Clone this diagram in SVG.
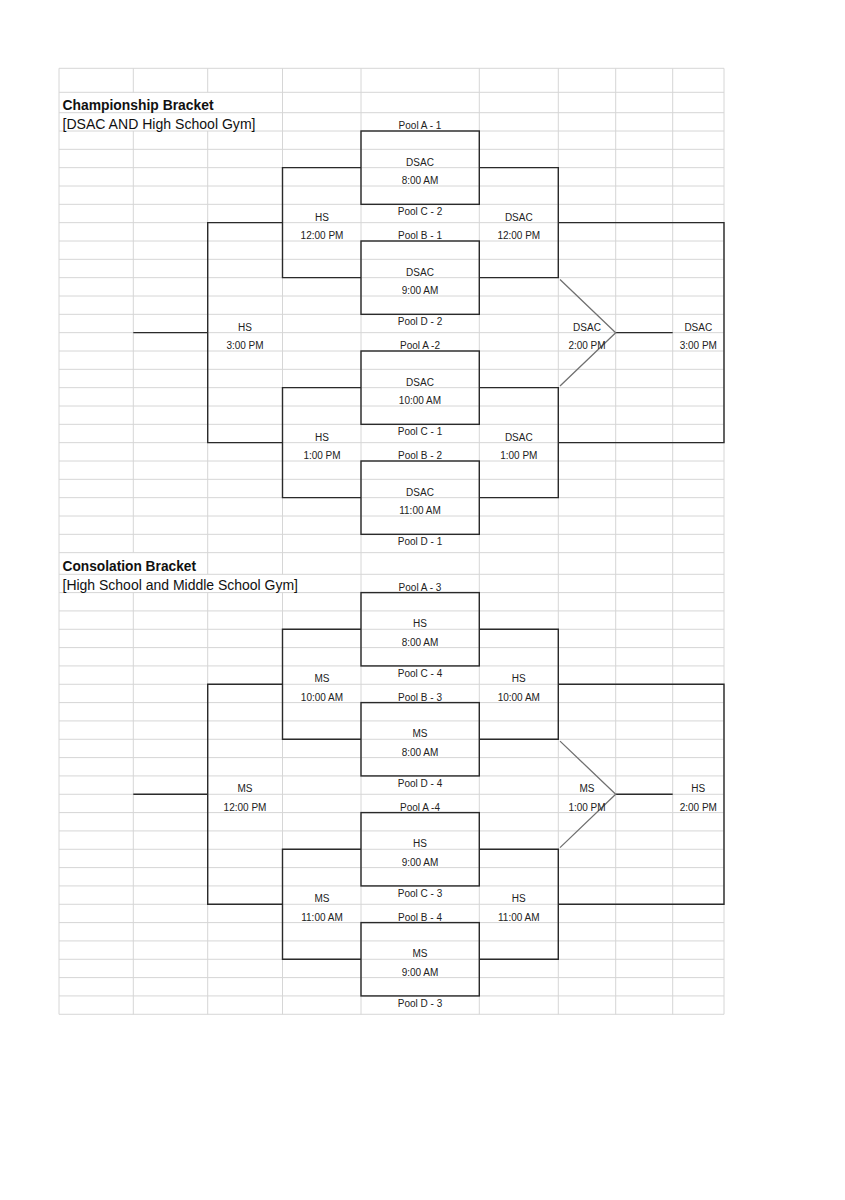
<svg xmlns="http://www.w3.org/2000/svg" width="845" height="1200" viewBox="0 0 845 1200">
<style>
.grid{stroke:#d6d6d6;stroke-width:1;fill:none}
.ln{stroke:#2a2a2a;stroke-width:1.4;fill:none}
.dg{stroke:#707070;stroke-width:1.3;fill:none}
.box{stroke:#2a2a2a;stroke-width:1.4;fill:none}
.t{font-family:"Liberation Sans",Arial,sans-serif;font-size:10px;fill:#222;text-anchor:middle}
.h1{font-family:"Liberation Sans",Arial,sans-serif;font-size:15.5px;font-weight:bold;fill:#111}
.h2{font-family:"Liberation Sans",Arial,sans-serif;font-size:14px;fill:#111}
</style>
<rect width="845" height="1200" fill="#fff"/>
<g id="grid">
<path class="grid" d="M59 68.3H724M59 92.3H724M59 112.7H724M59 574.3H724
M59 131H724M59 149.33H724M59 167.67H724M59 186H724M59 204.33H724M59 222.67H724M59 241H724M59 259.33H724M59 277.67H724M59 296H724M59 314.33H724M59 332.67H724M59 351H724M59 369.33H724M59 387.67H724M59 406H724M59 424.33H724M59 442.67H724M59 461H724M59 479.33H724M59 497.67H724M59 516H724M59 534.33H724M59 552.67H724
M59 592.6H724M59 610.93H724M59 629.27H724M59 647.6H724M59 665.93H724M59 684.27H724M59 702.6H724M59 720.93H724M59 739.27H724M59 757.6H724M59 775.93H724M59 794.27H724M59 812.6H724M59 830.93H724M59 849.27H724M59 867.6H724M59 885.93H724M59 904.27H724M59 922.6H724M59 940.93H724M59 959.27H724M59 977.6H724M59 995.93H724M59 1014.27H724
M59 68.3V1014.3
M133.3 68.3V92.3M133.3 131V552.67M133.3 592.6V1014.3
M207.7 68.3V92.3M207.7 131V574.3M207.7 592.6V1014.3
M282.5 68.3V574.3M282.5 592.6V1014.3
M361 68.3V1014.3M479.3 68.3V1014.3M558.3 68.3V1014.3M615.7 68.3V1014.3M672.7 68.3V1014.3M724 68.3V1014.3"/>
</g>
<g id="titles">
<text class="h1" x="62.5" y="109.5" textLength="151" lengthAdjust="spacingAndGlyphs">Championship Bracket</text>
<text class="h2" x="62.5" y="128.5" textLength="193" lengthAdjust="spacingAndGlyphs">[DSAC AND High School Gym]</text>
<text class="h1" x="62.5" y="570.5" textLength="133.5" lengthAdjust="spacingAndGlyphs">Consolation Bracket</text>
<text class="h2" x="62.5" y="590" textLength="235.5" lengthAdjust="spacingAndGlyphs">[High School and Middle School Gym]</text>
</g>
<g id="championship">
<g id="connectors-champ">
<path class="ln" d="M361 167.67H282.5V277.67H361M479.3 167.67H558.3V277.67H479.3M361 387.67H282.5V497.67H361M479.3 387.67H558.3V497.67H479.3M282.5 222.67H207.7V442.67H282.5M133.3 332.67H207.7M558.3 222.67H724V442.67H558.3M615.7 332.67H672.7"/>
<path class="dg" d="M560 279.5L615.7 332.67L560 386"/>
</g>
<g id="c-m1"><rect class="box" x="361" y="131" width="118.3" height="73.33"/><text class="t" x="420" y="165.9">DSAC</text><text class="t" x="420" y="184.2">8:00 AM</text></g>
<g id="c-m2"><rect class="box" x="361" y="241" width="118.3" height="73.33"/><text class="t" x="420" y="275.9">DSAC</text><text class="t" x="420" y="294.2">9:00 AM</text></g>
<g id="c-m3"><rect class="box" x="361" y="351" width="118.3" height="73.33"/><text class="t" x="420" y="385.9">DSAC</text><text class="t" x="420" y="404.2">10:00 AM</text></g>
<g id="c-m4"><rect class="box" x="361" y="461" width="118.3" height="73.33"/><text class="t" x="420" y="495.9">DSAC</text><text class="t" x="420" y="514.2">11:00 AM</text></g>
<g id="c-pools">
<text class="t" x="420" y="129.2">Pool A - 1</text>
<text class="t" x="420" y="215.3">Pool C - 2</text>
<text class="t" x="420" y="239.2">Pool B - 1</text>
<text class="t" x="420" y="325.3">Pool D - 2</text>
<text class="t" x="420" y="349.2">Pool A -2</text>
<text class="t" x="420" y="435.3">Pool C - 1</text>
<text class="t" x="420" y="459.2">Pool B - 2</text>
<text class="t" x="420" y="545.3">Pool D - 1</text>
</g>
<g id="c-l1"><text class="t" x="322" y="220.9">HS</text><text class="t" x="322" y="239.2">12:00 PM</text></g>
<g id="c-l2"><text class="t" x="322" y="440.9">HS</text><text class="t" x="322" y="459.2">1:00 PM</text></g>
<g id="c-l3"><text class="t" x="245" y="330.9">HS</text><text class="t" x="245" y="349.2">3:00 PM</text></g>
<g id="c-r1"><text class="t" x="518.8" y="220.9">DSAC</text><text class="t" x="518.8" y="239.2">12:00 PM</text></g>
<g id="c-r2"><text class="t" x="518.8" y="440.9">DSAC</text><text class="t" x="518.8" y="459.2">1:00 PM</text></g>
<g id="c-r3"><text class="t" x="587" y="330.9">DSAC</text><text class="t" x="587" y="349.2">2:00 PM</text></g>
<g id="c-r4"><text class="t" x="698.3" y="330.9">DSAC</text><text class="t" x="698.3" y="349.2">3:00 PM</text></g>
</g>
<g id="consolation" transform="translate(0 461.6)">
<g id="connectors-cons">
<path class="ln" d="M361 167.67H282.5V277.67H361M479.3 167.67H558.3V277.67H479.3M361 387.67H282.5V497.67H361M479.3 387.67H558.3V497.67H479.3M282.5 222.67H207.7V442.67H282.5M133.3 332.67H207.7M558.3 222.67H724V442.67H558.3M615.7 332.67H672.7"/>
<path class="dg" d="M560 279.5L615.7 332.67L560 386"/>
</g>
<g id="s-m1"><rect class="box" x="361" y="131" width="118.3" height="73.33"/><text class="t" x="420" y="165.9">HS</text><text class="t" x="420" y="184.2">8:00 AM</text></g>
<g id="s-m2"><rect class="box" x="361" y="241" width="118.3" height="73.33"/><text class="t" x="420" y="275.9">MS</text><text class="t" x="420" y="294.2">8:00 AM</text></g>
<g id="s-m3"><rect class="box" x="361" y="351" width="118.3" height="73.33"/><text class="t" x="420" y="385.9">HS</text><text class="t" x="420" y="404.2">9:00 AM</text></g>
<g id="s-m4"><rect class="box" x="361" y="461" width="118.3" height="73.33"/><text class="t" x="420" y="495.9">MS</text><text class="t" x="420" y="514.2">9:00 AM</text></g>
<g id="s-pools">
<text class="t" x="420" y="129.2">Pool A - 3</text>
<text class="t" x="420" y="215.3">Pool C - 4</text>
<text class="t" x="420" y="239.2">Pool B - 3</text>
<text class="t" x="420" y="325.3">Pool D - 4</text>
<text class="t" x="420" y="349.2">Pool A -4</text>
<text class="t" x="420" y="435.3">Pool C - 3</text>
<text class="t" x="420" y="459.2">Pool B - 4</text>
<text class="t" x="420" y="545.3">Pool D - 3</text>
</g>
<g id="s-l1"><text class="t" x="322" y="220.9">MS</text><text class="t" x="322" y="239.2">10:00 AM</text></g>
<g id="s-l2"><text class="t" x="322" y="440.9">MS</text><text class="t" x="322" y="459.2">11:00 AM</text></g>
<g id="s-l3"><text class="t" x="245" y="330.9">MS</text><text class="t" x="245" y="349.2">12:00 PM</text></g>
<g id="s-r1"><text class="t" x="518.8" y="220.9">HS</text><text class="t" x="518.8" y="239.2">10:00 AM</text></g>
<g id="s-r2"><text class="t" x="518.8" y="440.9">HS</text><text class="t" x="518.8" y="459.2">11:00 AM</text></g>
<g id="s-r3"><text class="t" x="587" y="330.9">MS</text><text class="t" x="587" y="349.2">1:00 PM</text></g>
<g id="s-r4"><text class="t" x="698.3" y="330.9">HS</text><text class="t" x="698.3" y="349.2">2:00 PM</text></g>
</g>
</svg>
